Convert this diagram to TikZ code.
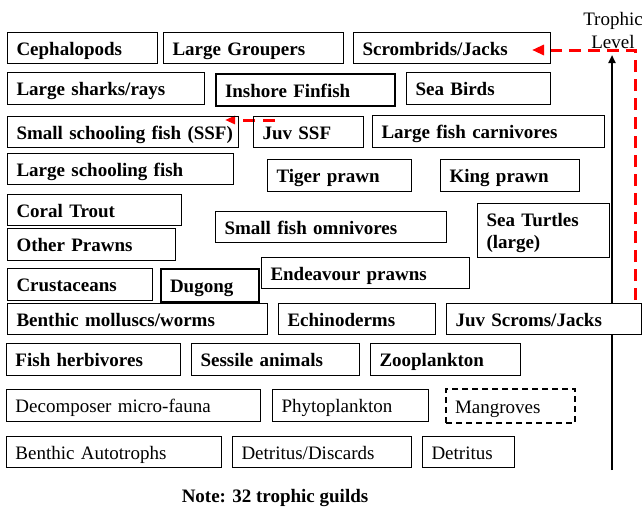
\documentclass[tikz,border=0pt]{standalone}
\usepackage{fontspec}
\setmainfont{Liberation Serif}
\usetikzlibrary{arrows.meta}
\pgfdeclarelayer{bg}
\pgfsetlayers{bg,main}
\tikzset{
  bx/.style={draw=black, line width=1pt, inner xsep=9pt, inner ysep=0pt, align=left,
    font=\fontsize{19}{22}\selectfont\bfseries, text height=14pt, text depth=0pt, anchor=north west},
  rg/.style={font=\fontsize{19}{22}\selectfont},
  thickbx/.style={line width=2pt},
  dashbx/.style={line width=2pt, dash pattern=on 6pt off 4pt},
  coverbx/.style={fill=white},
  reddash/.style={draw=red, line width=3pt, dash pattern=on 12pt off 7pt, -{Triangle[length=12pt,width=10pt]}},
  reddashsmall/.style={draw=red, line width=3pt, dash pattern=on 12pt off 8pt, -{Triangle[length=10pt,width=8pt]}},
  axisline/.style={line width=2pt, -{Triangle[length=8pt,width=7pt]}},
  lbl/.style={font=\fontsize{19}{22}\selectfont, inner sep=0pt, anchor=base},
  notelbl/.style={font=\fontsize{19}{22}\selectfont\bfseries, inner sep=0pt, anchor=base},
}
\newcommand\gbox[7][]{%
  \pgfmathsetmacro\gbw{#5-#3}%
  \pgfmathsetmacro\gbh{#6-#4}%
  \pgfmathsetmacro\gtw{#5-#3-18}%
  \node[bx,#1,minimum width=\gbw pt,minimum height=\gbh pt,text width=\gtw pt] (#2) at (#3,#4) {#7};}
\begin{document}
\begin{tikzpicture}[x=1pt,y=-1pt]
\useasboundingbox (0,0) rectangle (642,506);
% row 1
\gbox{ceph}{7}{32}{157}{63}{Cephalopods}
\gbox{grouper}{163}{32}{343}{63}{Large Groupers}
\gbox{scromb}{353}{32}{550}{63}{Scrombrids/Jacks}
% row 2
\gbox{sharks}{7}{72}{204}{104}{Large sharks/rays}
\gbox[thickbx]{inshore}{215}{73}{394}{105}{Inshore Finfish}
\gbox{seabirds}{406}{72}{550}{104}{Sea Birds}
% row 3
\gbox{ssf}{7}{116}{238}{147}{\mbox{Small schooling fish (SSF)}}
\gbox{juvssf}{253}{116}{363}{147}{Juv SSF}
\gbox{lfc}{372}{115}{604}{147}{Large fish carnivores}
% row 4
\gbox{lsf}{7}{153}{233}{184}{Large schooling fish}
\gbox{tiger}{267}{159}{411}{191}{Tiger prawn}
\gbox{king}{440}{159}{579}{191}{King prawn}
% row 5
\gbox{coral}{7}{194}{181}{225}{Coral Trout}
\gbox{sfo}{215}{211}{446}{242}{Small fish omnivores}
\gbox[text depth=22pt]{turtles}{477}{203}{609}{257}{Sea Turtles\\(large)}
\gbox{otherprawns}{7}{228}{175}{260}{Other Prawns}
% row 6
\gbox{endeavour}{261}{257}{469}{288}{Endeavour prawns}
\gbox{crust}{7}{268}{152}{300}{Crustaceans}
\gbox[thickbx]{dugong}{160}{268}{258}{301}{Dugong}
% row 7
\gbox{benthic}{7}{303}{267}{334}{Benthic molluscs/worms}
\gbox{echino}{278}{303}{435}{334}{Echinoderms}
\gbox[coverbx]{juvscrom}{446}{303}{641}{334}{Juv Scroms/Jacks}
% row 8
\gbox{fishherb}{6}{343}{180}{375}{Fish herbivores}
\gbox{sessile}{191}{343}{359}{375}{Sessile animals}
\gbox{zoo}{370}{343}{520}{375}{Zooplankton}
% row 9
\gbox[rg]{decomp}{6}{389}{260}{421}{Decomposer micro-fauna}
\gbox[rg]{phyto}{272}{389}{428}{421}{Phytoplankton}
\gbox[rg,dashbx,inner xsep=8pt]{mangroves}{445}{388}{574}{422}{Mangroves}
% row 10
\gbox[rg]{bauto}{6}{436}{221}{467}{Benthic Autotrophs}
\gbox[rg]{detdisc}{232}{436}{411}{467}{Detritus/Discards}
\gbox[rg]{detritus}{422}{436}{514}{467}{Detritus}
% trophic level axis
\node[lbl] (troph) at (613,25) {Trophic};
\node[lbl] (lev) at (613,48) {Level};
\coordinate (axbot) at (612,470);
\coordinate (axtop) at (612,55);
\coordinate (rcorner) at (635,50);
\coordinate (sjtip) at (532,50);
\coordinate (ssfstart) at (275,120);
\coordinate (ssftip) at (225,120);
\begin{pgfonlayer}{bg}
\draw[axisline] (axbot) -- (axtop);
\draw[reddash] (juvscrom.center -| rcorner) -- (rcorner) -- (sjtip);
\draw[reddashsmall] (ssfstart) -- (ssftip);
\end{pgfonlayer}
\node[notelbl] (note) at (275,502) {Note: 32 trophic guilds};
\end{tikzpicture}
\end{document}
